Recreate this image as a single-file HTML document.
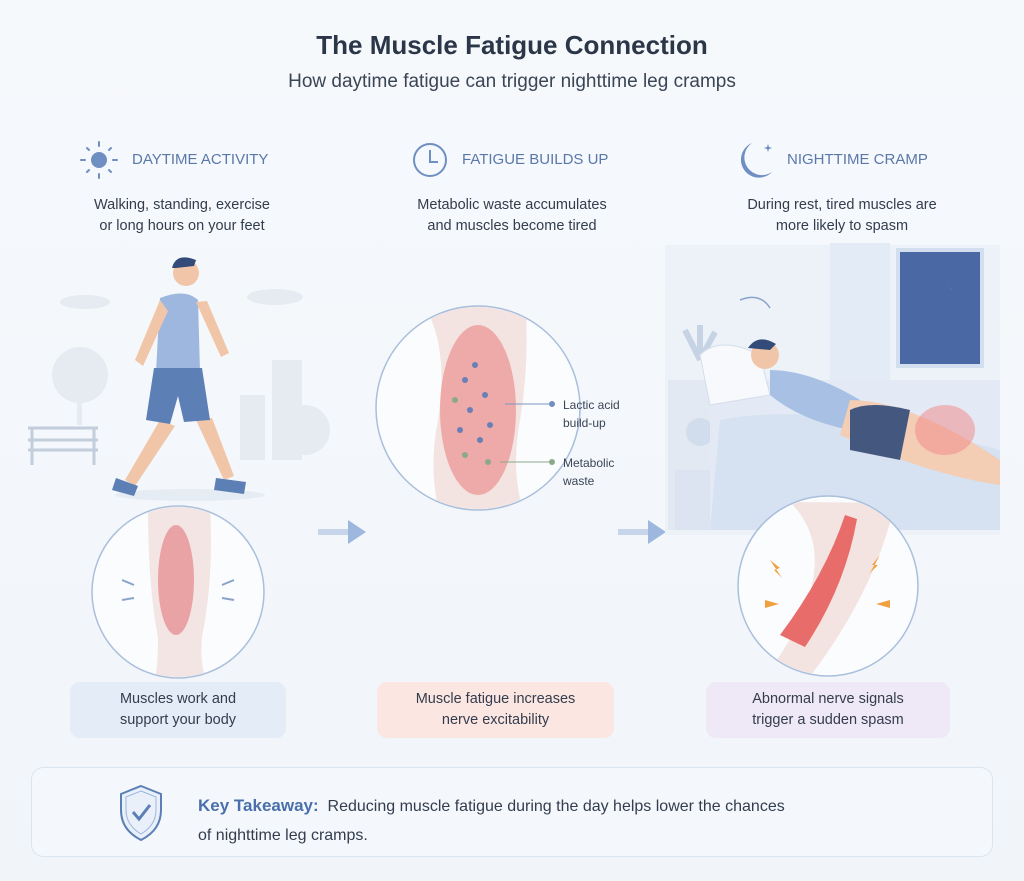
<!DOCTYPE html>
<html><head><meta charset="utf-8"><style>
*{margin:0;padding:0;box-sizing:border-box}
body{width:1024px;height:881px;background:linear-gradient(#f6f9fc,#f1f5fa);font-family:"Liberation Sans",sans-serif;position:relative;overflow:hidden;color:#2f3a4c}
.a{position:absolute}
.c{text-align:center}
h1{position:absolute;left:0;width:1024px;top:30px;text-align:center;font-size:26px;font-weight:bold;color:#2b3648}
.sub{top:71px;left:0;width:1024px;font-size:19px;color:#3a4556}
.hd{font-size:15px;color:#5a78a8;top:151px}
.ds{font-size:14.5px;line-height:21px;top:195px;width:260px;color:#333d4d}
.box{border-radius:10px;font-size:14.5px;line-height:21px;padding-top:7px;height:56px;top:682px;color:#333d4d}
</style></head><body>
<h1>The Muscle Fatigue Connection</h1>
<div class="a c sub">How daytime fatigue can trigger nighttime leg cramps</div>

<svg class="a" style="left:0;top:0" width="1024" height="881">
<defs>
<clipPath id="c1"><circle cx="178" cy="592" r="85"/></clipPath>
<clipPath id="c2"><circle cx="478" cy="408" r="101"/></clipPath>
<clipPath id="c3"><circle cx="828" cy="586" r="89"/></clipPath>
</defs>
<!-- takeaway box -->
<rect x="31.5" y="767.5" width="961" height="89" rx="12" fill="#f4f8fc" stroke="#dbe5f0"/>
<!-- sun -->
<g stroke="#6f8fc2" stroke-width="2" stroke-linecap="round">
<circle cx="99" cy="160" r="8" fill="#6f8fc2" stroke="none"/>
<line x1="99" y1="142" x2="99" y2="146"/><line x1="99" y1="174" x2="99" y2="178"/>
<line x1="81" y1="160" x2="85" y2="160"/><line x1="113" y1="160" x2="117" y2="160"/>
<line x1="87" y1="148" x2="89" y2="150"/><line x1="109" y1="170" x2="111" y2="172"/>
<line x1="111" y1="148" x2="109" y2="150"/><line x1="87" y1="172" x2="89" y2="170"/>
</g>
<!-- clock -->
<circle cx="430" cy="160" r="16" fill="none" stroke="#6f8fc2" stroke-width="2"/>
<path d="M430 150 V162 H438" fill="none" stroke="#6f8fc2" stroke-width="2"/>
<!-- moon -->
<path d="M752 143 A18 18 0 1 0 772 172 A14 14 0 0 1 752 143Z" fill="#6f8fc2"/>
<path d="M768 144 l1 3 3 1 -3 1 -1 3 -1 -3 -3 -1 3 -1z" fill="#6f8fc2"/>

<!-- left scene background -->
<g fill="#e6ebf2">
<circle cx="80" cy="375" r="28"/><rect x="77" y="380" width="5" height="45"/>
<rect x="240" y="395" width="25" height="65"/><rect x="272" y="360" width="30" height="100"/>
<circle cx="305" cy="430" r="25"/>
<ellipse cx="275" cy="297" rx="28" ry="8"/><ellipse cx="85" cy="302" rx="25" ry="7"/>
</g>
<g stroke="#c3cedd" stroke-width="3" fill="none"><path d="M28 428 H98 M28 440 H98 M32 428 V465 M94 428 V465 M28 450 H98"/></g>
<ellipse cx="190" cy="495" rx="75" ry="6" fill="#e6ecf4"/>
<!-- person -->
<circle cx="186" cy="273" r="13" fill="#f1c6a8"/><path d="M172 268 q4-16 24-8 l-2 6 -18 2z" fill="#324b78"/>
<path d="M160 420 l-35 60 10 6 40-60z M196 420 l28 60 10 -4 -22-58z" fill="#f1c6a8"/>
<path d="M160 298 q25-10 38 2 l2 72 -44 0z" fill="#9db7df"/>
<path d="M154 368 h48 l8 52 -26 2 -6-26 -8 28 -24 -4z" fill="#5c7fb5"/>
<path d="M116 478 l22 8 -4 10 -22-6z M216 478 l30 4 -2 12 -30-4z" fill="#5c7fb5"/>
<path d="M160 300 l-25 60 8 6 25-55z M196 302 l25 55 8-4 -22-52z" fill="#f1c6a8"/>
<!-- left circle -->
<circle cx="178" cy="592" r="86" fill="#fbfcfe" stroke="#a9bfdc" stroke-width="1.5"/>
<g clip-path="url(#c1)">
<path d="M148 507 q0 80 10 130 q0 30 -3 40 h50 q-5 -15 -3 -40 q12 -60 8 -130z" fill="#f3e5e3"/>
<ellipse cx="176" cy="580" rx="18" ry="55" fill="#eaa3a5"/>
</g>
<g stroke="#8aa3c8" stroke-width="2"><line x1="122" y1="580" x2="134" y2="585"/><line x1="122" y1="600" x2="134" y2="598"/><line x1="234" y1="580" x2="222" y2="585"/><line x1="234" y1="600" x2="222" y2="598"/></g>

<!-- arrows -->
<path d="M318 532 H350" stroke="#c6d5ea" stroke-width="6"/><path d="M348 520 L366 532 L348 544Z" fill="#9db7df"/>
<path d="M618 532 H650" stroke="#c6d5ea" stroke-width="6"/><path d="M648 520 L666 532 L648 544Z" fill="#9db7df"/>

<!-- middle circle -->
<circle cx="478" cy="408" r="102" fill="#fbfcfe" stroke="#a9bfdc" stroke-width="1.5"/>
<g clip-path="url(#c2)">
<path d="M420 300 q30 40 18 120 q-10 50 2 95 h85 q-15 -40 -5 -95 q10 -60 5 -120z" fill="#f3e3e1"/>
<ellipse cx="478" cy="410" rx="38" ry="85" fill="#eeaaa8"/>
</g>
<g fill="#6a7fb8"><circle cx="465" cy="380" r="3"/><circle cx="485" cy="395" r="3"/><circle cx="470" cy="410" r="3"/><circle cx="490" cy="425" r="3"/><circle cx="460" cy="430" r="3"/><circle cx="480" cy="440" r="3"/><circle cx="475" cy="365" r="3"/></g>
<g fill="#8ba88a"><circle cx="465" cy="455" r="3"/><circle cx="488" cy="462" r="3"/><circle cx="455" cy="400" r="3"/></g>
<line x1="505" y1="404" x2="552" y2="404" stroke="#7d95bf"/><circle cx="552" cy="404" r="3" fill="#6f8fc2"/>
<line x1="500" y1="462" x2="552" y2="462" stroke="#8ba88a"/><circle cx="552" cy="462" r="3" fill="#8ba88a"/>

<!-- bedroom -->
<rect x="665" y="245" width="335" height="290" fill="#edf2f9"/>
<rect x="830" y="243" width="60" height="140" fill="#e3ebf6"/>
<rect x="896" y="248" width="88" height="120" fill="#d3deee"/>
<rect x="900" y="252" width="80" height="112" fill="#4a68a3"/>
<path d="M952 272 a10 10 0 1 0 10 18 a8 8 0 0 1 -10 -18z" fill="#f4e3b0"/>
<path d="M740 300 q20 -8 30 8" fill="none" stroke="#8aa3c8" stroke-width="1.5"/>
<rect x="668" y="380" width="60" height="150" fill="#e2e9f3"/>
<path d="M700 360 l-15 -30 M700 360 l15 -28 M700 360 v-35" stroke="#c6d3e5" stroke-width="6"/>
<rect x="675" y="470" width="65" height="60" fill="#dbe4f0"/>
<ellipse cx="700" cy="432" rx="14" ry="14" fill="#d1dcec"/>
<path d="M710 380 h290 v150 h-290z" fill="#e3eaf5"/>
<path d="M700 355 q20 -20 60 0 l10 40 -60 10z" fill="#f7f9fc" stroke="#d5deeb"/>
<path d="M720 420 q100 -20 280 30 v80 h-290z" fill="#d6e1f1"/>
<circle cx="765" cy="355" r="14" fill="#f1c6a8"/><path d="M748 348 q10 -15 28 -4 l-6 6z" fill="#324b78"/>
<path d="M770 370 q40 0 90 30 l-10 30 q-50 -10 -80 -35z" fill="#a8c0e4"/>
<path d="M850 400 q60 0 150 60 v25 q-70 -10 -160 -50z" fill="#f3cdb4"/>
<ellipse cx="945" cy="430" rx="30" ry="25" fill="#f08c8c" opacity=".55"/>
<path d="M850 410 q20 -10 60 0 l-10 50 -50 -10z" fill="#44577f"/>
<!-- right circle -->
<circle cx="828" cy="586" r="90" fill="#fbfcfe" stroke="#a9bfdc" stroke-width="1.5"/>
<g clip-path="url(#c3)">
<path d="M790 502 q60 60 -25 175 l40 6 q70 -90 90 -180z" fill="#f3e3e1"/>
<path d="M845 515 q-20 60 -65 120 l25 12 q40 -60 52 -128z" fill="#e86d6a"/>
<g fill="#f0a040"><path d="M770 560 l10 8 -6 2 8 8z"/><path d="M880 555 l-8 10 6 0 -8 8z"/><path d="M765 600 l14 4 -14 4z"/><path d="M890 600 l-14 4 14 4z"/></g>
</g>

<!-- shield -->
<path d="M141 786 l20 8 v16 q0 20 -20 30 q-20 -10 -20 -30 v-16z" fill="#e9f0f9" stroke="#5c7fb5" stroke-width="2"/>
<path d="M141 791 l15 6 v13 q0 15 -15 24 q-15 -9 -15 -24 v-13z" fill="none" stroke="#9db7df" stroke-width="1"/>
<path d="M133 812 l6 7 11 -14" fill="none" stroke="#5c7fb5" stroke-width="3"/>
</svg>

<div class="a hd" style="left:132px">DAYTIME ACTIVITY</div>
<div class="a hd" style="left:462px">FATIGUE BUILDS UP</div>
<div class="a hd" style="left:787px">NIGHTTIME CRAMP</div>
<div class="a c ds" style="left:52px">Walking, standing, exercise<br>or long hours on your feet</div>
<div class="a c ds" style="left:382px">Metabolic waste accumulates<br>and muscles become tired</div>
<div class="a c ds" style="left:712px">During rest, tired muscles are<br>more likely to spasm</div>
<div class="a" style="left:563px;top:396px;font-size:12px;line-height:18px;color:#3a4556">Lactic acid<br>build-up</div>
<div class="a" style="left:563px;top:454px;font-size:12px;line-height:18px;color:#3a4556">Metabolic<br>waste</div>
<div class="a c box" style="left:70px;width:216px;background:#e3ecf7">Muscles work and<br>support your body</div>
<div class="a c box" style="left:377px;width:237px;background:#fbe6e2">Muscle fatigue increases<br>nerve excitability</div>
<div class="a c box" style="left:706px;width:244px;background:#efe8f6">Abnormal nerve signals<br>trigger a sudden spasm</div>
<div class="a" style="left:198px;top:791px;font-size:16px;line-height:29px;color:#333d4d"><b style="color:#4a6fab;font-size:17px">Key Takeaway:</b>&nbsp; Reducing muscle fatigue during the day helps lower the chances<br>of nighttime leg cramps.</div>
</body></html>
